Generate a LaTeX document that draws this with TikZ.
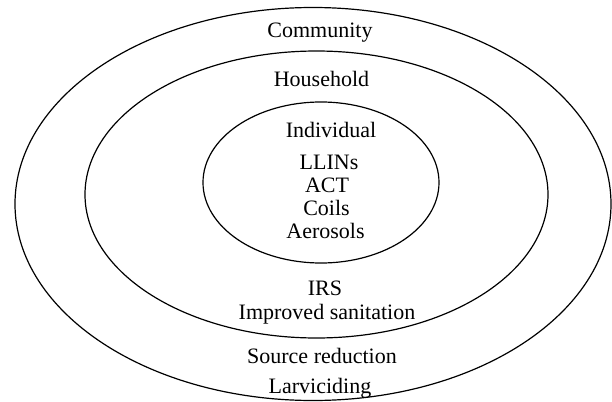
\documentclass[tikz,border=0pt]{standalone}
\usepackage{fontspec}
\setmainfont{Liberation Serif}

\begin{document}
\begin{tikzpicture}[x=0.5pt, y=-0.5pt, font=\fontsize{11}{13}\selectfont]
                        \useasboundingbox (0,0) rectangle (612,402);

                        \draw[line width = 0.6pt] (313,204) ellipse [x radius=298, y radius=196.5];
                        \draw[line width = 0.6pt] (316.5,194.5) ellipse [x radius=231.5, y radius=143.5];
                        \draw[line width = 0.6pt] (321,182.5) ellipse [x radius=118, y radius=80.5];

                        \node[anchor=base] (community) at (320,37) {Community};
                        \node[anchor=base] (household) at (321.5,86) {Household};
                        \node[anchor=base] (individual) at (331,137) {Individual};

                        \node[anchor=base] (llins) at (329,169) {LLINs};
                        \node[anchor=base] (act) at (327,192) {ACT};
                        \node[anchor=base] (coils) at (326.5,215) {Coils};
                        \node[anchor=base] (aerosols) at (325.5,238) {Aerosols};

                        \node[anchor=base] (irs) at (325,295) {IRS};
                        \node[anchor=base] (sanitation) at (327,319) {Improved sanitation};

                        \node[anchor=base] (source) at (322,363) {Source reduction};
                        \node[anchor=base] (larvi) at (320,393) {Larviciding};
                    \end{tikzpicture}
\end{document}
